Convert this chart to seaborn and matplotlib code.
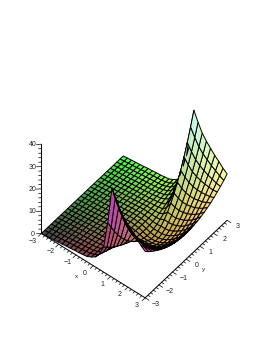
import numpy as np
import matplotlib
matplotlib.use('Agg')
import matplotlib.pyplot as plt
from mpl_toolkits.mplot3d import proj3d
import seaborn as sns

sns.set_theme(style='white')
plt.rcParams['font.family'] = ['Liberation Sans', 'DejaVu Sans']

# grid of the surface, y only for the positive half, the picture is mirrored around y=0
x_vals = [-3, -2.76, -2.52, -2.28, -2.04, -1.8, -1.56, -1.32, -1.08, -0.84, -0.6, -0.36, -0.12,
          0.12, 0.36, 0.6, 0.84, 1.08, 1.32, 1.56, 1.8, 2.04, 2.28, 2.52, 2.76, 3]
y_half = [0.12, 0.36, 0.6, 0.84, 1.08, 1.32, 1.56, 1.8, 2.04, 2.28, 2.52, 2.76, 3]

# heights, one row per x value
z_half = [
    [0.0] * 13,
    [0.2] * 13,
    [0.4] * 13,
    [0.6] * 13,
    [0.8] * 13,
    [1.0] * 13,
    [1.3] * 13,
    [1.4] * 13,
    [1.7] * 13,
    [1.8] * 13,
    [2.1] * 13,
    [2.2, 2.2, 2.2, 2.2, 2.2, 2.2, 2.2, 2.3, 2.3, 2.3, 2.3, 2.4, 2.4],
    [2.4, 2.4, 2.4, 2.5, 2.5, 2.6, 2.6, 2.7, 2.8, 2.9, 3.0, 3.1, 3.3],
    [2.2, 2.2, 2.3, 2.4, 2.5, 2.6, 2.8, 3.0, 3.2, 3.5, 3.8, 4.1, 4.5],
    [2.0, 2.1, 2.2, 2.4, 2.6, 3.0, 3.3, 3.8, 4.3, 4.9, 5.5, 6.2, 7.0],
    [1.4, 1.5, 1.8, 2.2, 2.7, 3.3, 4.1, 5.0, 6.0, 7.1, 8.4, 9.8, 11.3],
    [0.8, 1.1, 1.7, 2.6, 3.7, 5.2, 6.9, 8.9, 11.2, 13.8, 16.7, 19.9, 23.3],
    [0.5, 1.1, 2.1, 3.6, 5.6, 8.2, 11.2, 14.8, 18.8, 23.4, 28.4, 34.0, 40.1],
    [0.7, 1.2, 2.1, 3.5, 5.3, 7.5, 10.2, 13.3, 16.9, 21.0, 25.5, 30.5, 35.9],
    [1.2, 1.6, 2.4, 3.7, 5.2, 7.2, 9.6, 12.4, 15.6, 19.1, 23.1, 27.5, 32.2],
    [2.2, 2.6, 3.3, 4.4, 5.8, 7.5, 9.6, 12.1, 14.9, 18.1, 21.6, 25.4, 29.7],
    [3.4, 3.8, 4.4, 5.3, 6.6, 8.1, 10.0, 12.1, 14.6, 17.4, 20.5, 24.0, 27.7],
    [5.0, 5.3, 5.8, 6.6, 7.7, 9.0, 10.6, 12.5, 14.6, 17.0, 19.6, 22.5, 25.7],
    [6.8, 7.0, 7.5, 8.2, 9.0, 10.1, 11.5, 13.0, 14.8, 16.8, 19.0, 21.4, 24.1],
    [9.0, 9.2, 9.5, 10.0, 10.7, 11.6, 12.6, 13.8, 15.1, 16.6, 18.3, 20.2, 22.2],
    [11.5, 11.6, 11.9, 12.2, 12.7, 13.3, 14.0, 14.8, 15.8, 16.9, 18.0, 19.3, 20.8],
]

xy_ticks = [-3, -2, -1, 0, 1, 2, 3]
z_ticks = [0, 10, 20, 30, 40]

x = np.array(x_vals)
y = np.concatenate([-np.array(y_half)[::-1], y_half])
z_half = np.array(z_half)
z = np.hstack([z_half[:, ::-1], z_half])
X, Y = np.meshgrid(x, y, indexing='ij')

# colour follows position: red with x, green with y, blue with z
rgb = np.dstack([(X + 3) / 6, (Y + 3) / 6, np.clip(z / 40, 0, 1)])
colors = 0.28 + 0.72 * rgb

fig = plt.figure(figsize=(2.77, 3.58), dpi=100)
ax = fig.add_axes([-8 / 277, -7 / 358, 1, 1], projection='3d')
ax.set_proj_type('ortho')
ax.view_init(elev=50, azim=-51)
ax.set_box_aspect((1, 0.975, 1.04), zoom=0.815)
ax.set_xlim(-3, 3)
ax.set_ylim(-3, 3)
ax.set_zlim(0, 40)
ax.set_axis_off()

ax.plot_surface(X, Y, z, facecolors=colors, rstride=1, cstride=1, shade=False,
                edgecolor='black', linewidth=0.7, antialiased=True)

# axes by hand
axis_kw = dict(color='black', linewidth=0.7, zorder=10)
ax.plot([-3, 3], [-3, -3], [0, 0], **axis_kw)
ax.plot([3, 3], [-3, 3], [0, 0], **axis_kw)
ax.plot([-3, -3], [-3, -3], [0, 40], **axis_kw)

tick_kw = dict(color='black', linewidth=0.5, zorder=10)
for t in np.arange(-3, 3.01, 0.2):
    major = abs(t - round(t)) < 0.01
    size = 0.22 if major else 0.13
    ax.plot([t, t], [-3, -3 - size], [0, 0], **tick_kw)
    ax.plot([3, 3 + size], [t, t], [0, 0], **tick_kw)
for t in np.arange(0, 40.1, 2):
    size = 0.16 if t % 10 == 0 else 0.09
    ax.plot([-3, -3 - size], [-3, -3 - size], [t, t], **tick_kw)


# labels go in as plain 2d text at the projected spot
def put_label(px, py, pz, s, size=5):
    u, v, _ = proj3d.proj_transform(px, py, pz, ax.get_proj())
    ax.text2D(u, v, s, transform=ax.transData, fontsize=size, color='#222222',
              ha='center', va='center', zorder=11)


for t in xy_ticks:
    lab = str(t).replace('-', '\u2212')
    put_label(t, -3.6, 0, lab)
    put_label(3.62, t, 0, lab)
for t in z_ticks:
    put_label(-3.28, -3.28, t, str(t))
put_label(-0.17, -4.0, 0, 'x', 4.5)
put_label(4.0, 0.04, 0, 'y', 4.5)

fig.savefig('out.png', dpi=100)
